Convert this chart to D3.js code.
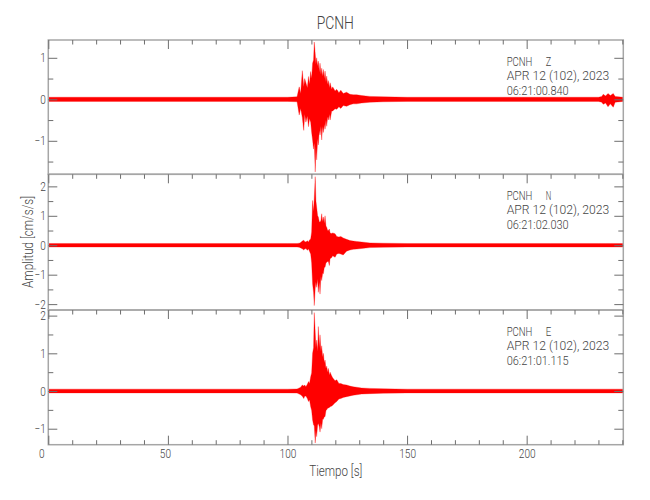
<!DOCTYPE html>
<html>
<head>
<meta charset="utf-8">
<script src="https://cdn.jsdelivr.net/npm/d3@7"></script>
<style>
  html, body { margin: 0; padding: 0; background: #fff; }
  svg { display: block; }
</style>
</head>
<body>
<svg id="chart" width="650" height="500"></svg>
<script>
// ---------------- DATA ----------------
const station = "PCNH";
const dateLabel = "APR 12 (102), 2023";
const channels = ["Z", "N", "E"];
const startTimes = ["06:21:00.840", "06:21:02.030", "06:21:01.115"];
const xLabel = "Tiempo [s]";
const yLabel = "Amplitud [cm/s/s]";

// time axis (s) and axis ranges
const timeRange = [0, 240.4];
const xMajorTicks = [0, 50, 100, 150, 200];
const zRange = [-1.807, 1.429];
const nRange = [-2.20, 2.41];
const eRange = [-1.424, 2.149];
const zTicks = [-1, 0, 1];
const nTicks = [-2, -1, 0, 1, 2];
const eTicks = [-1, 0, 1, 2];

// envelope samples (upper / lower extremes of the trace)
const time = [0, 20, 40, 60, 80, 100, 104, 104.9, 105.5, 106.2, 106.8, 107.2, 107.7, 108.3, 108.8, 109.2,
  109.7, 110.1, 110.5, 110.9, 111.2, 111.6, 111.9, 112.2, 112.6, 112.9, 113.3, 113.6, 114.0, 114.3,
  114.7, 115.0, 115.4, 115.7, 116.1, 116.4, 116.8, 117.1, 117.5, 117.8, 118.5, 118.9, 119.9, 120.6,
  121.5, 122.3, 123.3, 124.7, 126.1, 127.5, 128.9, 131, 134.5, 140, 150, 170, 190, 210, 230,
  231.4, 232, 233, 234, 235, 236.2, 237, 240.4];

const zUpper = [0.05, 0.05, 0.05, 0.05, 0.05, 0.05, 0.06, 0.30, 0.14, 0.69, 0.30, 0.50, 0.40, 0.28, 0.55, 0.36,
  0.67, 0.50, 0.87, 0.95, 1.38, 1.10, 0.85, 1.00, 0.80, 0.92, 0.65, 0.87, 0.60, 0.75,
  0.55, 0.72, 0.50, 0.68, 0.42, 0.56, 0.36, 0.45, 0.28, 0.40, 0.24, 0.30, 0.20, 0.24,
  0.16, 0.22, 0.14, 0.17, 0.12, 0.11, 0.11, 0.09, 0.07, 0.06, 0.05, 0.05, 0.05, 0.05, 0.05,
  0.07, 0.12, 0.08, 0.14, 0.09, 0.14, 0.07, 0.05];
const zLower = [-0.05, -0.05, -0.05, -0.05, -0.05, -0.05, -0.06, -0.38, -0.22, -0.44, -0.75, -0.36, -0.55, -0.40, -0.66, -0.46,
  -0.55, -0.80, -0.98, -1.20, -1.05, -1.75, -1.15, -1.46, -0.95, -1.10, -0.75, -0.86, -0.65, -0.98,
  -0.65, -0.80, -0.60, -0.72, -0.50, -0.65, -0.42, -0.50, -0.36, -0.50, -0.28, -0.28, -0.23, -0.24,
  -0.18, -0.22, -0.15, -0.17, -0.13, -0.11, -0.11, -0.09, -0.07, -0.06, -0.05, -0.05, -0.05, -0.05, -0.05,
  -0.07, -0.12, -0.09, -0.18, -0.11, -0.19, -0.07, -0.05];

const nUpper = [0.06, 0.06, 0.06, 0.06, 0.06, 0.06, 0.06, 0.07, 0.09, 0.14, 0.17, 0.13, 0.11, 0.15, 0.11, 0.18,
  0.21, 0.45, 1.52, 1.15, 1.60, 2.33, 1.50, 1.29, 1.00, 0.96, 0.80, 0.78, 0.85, 1.07,
  0.80, 0.96, 0.75, 1.00, 0.65, 0.61, 0.50, 0.50, 0.55, 0.42, 0.40, 0.42, 0.39, 0.30,
  0.28, 0.30, 0.25, 0.20, 0.16, 0.14, 0.13, 0.11, 0.08, 0.07, 0.06, 0.06, 0.06, 0.06, 0.06,
  0.06, 0.06, 0.06, 0.06, 0.06, 0.06, 0.06, 0.06];
const nLower = [-0.06, -0.06, -0.06, -0.06, -0.06, -0.06, -0.06, -0.07, -0.09, -0.12, -0.16, -0.13, -0.11, -0.17, -0.13, -0.20,
  -0.30, -0.60, -1.32, -1.60, -2.05, -1.45, -1.25, -1.43, -1.15, -1.60, -1.25, -1.66, -1.05, -1.20,
  -0.95, -0.97, -0.75, -0.75, -0.60, -0.58, -0.55, -0.55, -0.69, -0.46, -0.42, -0.36, -0.41, -0.30,
  -0.28, -0.30, -0.33, -0.20, -0.16, -0.14, -0.13, -0.11, -0.08, -0.07, -0.06, -0.06, -0.06, -0.06, -0.06,
  -0.06, -0.06, -0.06, -0.06, -0.06, -0.06, -0.06, -0.06];

const eUpper = [0.05, 0.05, 0.05, 0.05, 0.05, 0.05, 0.055, 0.08, 0.10, 0.16, 0.13, 0.16, 0.11, 0.18, 0.25, 0.20,
  0.38, 0.48, 1.00, 1.15, 2.08, 1.55, 1.15, 1.35, 1.05, 1.71, 1.15, 1.49, 1.05, 1.20,
  0.90, 1.00, 0.75, 0.82, 0.60, 0.66, 0.50, 0.60, 0.42, 0.50, 0.40, 0.35, 0.27, 0.30,
  0.20, 0.20, 0.17, 0.16, 0.13, 0.11, 0.10, 0.08, 0.07, 0.06, 0.05, 0.05, 0.05, 0.05, 0.05,
  0.05, 0.05, 0.05, 0.05, 0.05, 0.05, 0.05, 0.05];
const eLower = [-0.05, -0.05, -0.05, -0.05, -0.05, -0.05, -0.055, -0.08, -0.10, -0.14, -0.20, -0.14, -0.13, -0.20, -0.28, -0.23,
  -0.42, -0.52, -0.77, -0.90, -0.92, -1.38, -1.05, -1.21, -0.90, -0.86, -0.95, -1.09, -0.85, -1.00,
  -0.75, -0.75, -0.68, -0.68, -0.52, -0.50, -0.46, -0.45, -0.44, -0.42, -0.40, -0.38, -0.31, -0.28,
  -0.21, -0.20, -0.17, -0.15, -0.13, -0.11, -0.10, -0.08, -0.07, -0.06, -0.05, -0.05, -0.05, -0.05, -0.05,
  -0.05, -0.05, -0.05, -0.05, -0.05, -0.05, -0.05, -0.05];

// ---------------- LAYOUT ----------------
const FONT = "Roboto, 'DejaVu Sans', sans-serif";
const WEIGHT = 300;
const frameColor = "#a6a6a6";
const tickColor = "#6e6e6e";
const textColor = "#444";
const traceColor = "#ff0000";
const charW = 5.6; // width of one label character in the reference (px)

const svg = d3.select("#chart");
const x = d3.scaleLinear().domain(timeRange).range([48.3, 623.3]);

const panels = [
  { ch: channels[0], start: startTimes[0], up: zUpper, lo: zLower, range: zRange, ticks: zTicks, top: 40, bottom: 174.3 },
  { ch: channels[1], start: startTimes[1], up: nUpper, lo: nLower, range: nRange, ticks: nTicks, top: 174.3, bottom: 310 },
  { ch: channels[2], start: startTimes[2], up: eUpper, lo: eLower, range: eRange, ticks: eTicks, top: 310, bottom: 444.7 }
];

const xMinor = d3.range(0, timeRange[1], 10).filter(v => !xMajorTicks.includes(v));
const x0 = x.range()[0], x1 = x.range()[1];
const fmt = d3.format("d");

function cleanAxis(g) {
  g.select(".domain").remove();
  g.selectAll(".tick line").attr("stroke", tickColor).attr("stroke-width", 1);
}
function styleLabels(g, size) {
  g.select(".domain").remove();
  g.attr("font-family", null).attr("font-size", null);
  g.selectAll("text")
    .attr("fill", textColor)
    .style("font-family", FONT).style("font-weight", WEIGHT).style("font-size", size + "px")
    .attr("textLength", function () { return this.textContent.length * charW; })
    .attr("lengthAdjust", "spacingAndGlyphs");
}

panels.forEach((p, i) => {
  const y = d3.scaleLinear().domain(p.range).range([p.bottom, p.top]);
  const clipId = "clip" + i;
  svg.append("clipPath").attr("id", clipId)
    .append("rect").attr("x", x0).attr("y", p.top).attr("width", x1 - x0).attr("height", p.bottom - p.top);

  const pts = time.map((t, k) => ({ t, u: p.up[k], l: p.lo[k] }));
  const area = d3.area().x(d => x(d.t)).y0(d => y(d.l)).y1(d => y(d.u));
  svg.append("path").datum(pts)
    .attr("clip-path", `url(#${clipId})`)
    .attr("d", area)
    .attr("fill", traceColor)
    .attr("stroke", traceColor)
    .attr("stroke-width", 0.3);

  // frame
  svg.append("rect").attr("x", x0).attr("y", p.top).attr("width", x1 - x0).attr("height", p.bottom - p.top)
    .attr("fill", "none").attr("stroke", frameColor).attr("stroke-width", 1.5);

  // y ticks, left and right (pointing in)
  const yMinor = d3.range(Math.ceil(p.range[0] * 2) / 2, p.range[1], 0.5).filter(v => !Number.isInteger(v));
  svg.append("g").attr("transform", `translate(${x0},0)`)
    .call(d3.axisRight(y).tickValues(p.ticks).tickSize(9).tickFormat("")).call(cleanAxis);
  svg.append("g").attr("transform", `translate(${x0},0)`)
    .call(d3.axisRight(y).tickValues(yMinor).tickSize(5).tickFormat("")).call(cleanAxis);
  svg.append("g").attr("transform", `translate(${x1},0)`)
    .call(d3.axisLeft(y).tickValues(p.ticks).tickSize(9).tickFormat("")).call(cleanAxis);
  svg.append("g").attr("transform", `translate(${x1},0)`)
    .call(d3.axisLeft(y).tickValues(yMinor).tickSize(5).tickFormat("")).call(cleanAxis);

  // y tick labels
  svg.append("g").attr("transform", `translate(${x0},0)`)
    .call(d3.axisLeft(y).tickValues(p.ticks).tickSize(0).tickPadding(2.5).tickFormat(fmt))
    .call(g => styleLabels(g, 13));

  // x ticks on top edge of every panel (pointing down)
  svg.append("g").attr("transform", `translate(0,${p.top})`)
    .call(d3.axisBottom(x).tickValues(xMajorTicks).tickSize(9).tickFormat("")).call(cleanAxis);
  svg.append("g").attr("transform", `translate(0,${p.top})`)
    .call(d3.axisBottom(x).tickValues(xMinor).tickSize(4.5).tickFormat("")).call(cleanAxis);

  // annotation
  const ann = svg.append("g").attr("fill", textColor)
    .style("font-family", FONT).style("font-weight", WEIGHT).style("font-size", "13px");
  ann.append("text").attr("x", 506.7).attr("y", p.top + 25.5).attr("textLength", 25.7)
    .attr("lengthAdjust", "spacingAndGlyphs").text(station);
  ann.append("text").attr("x", 545.7).attr("y", p.top + 25.5).attr("textLength", 5.5)
    .attr("lengthAdjust", "spacingAndGlyphs").text(p.ch);
  ann.append("text").attr("x", 506.7).attr("y", p.top + 40).attr("textLength", 102.6)
    .attr("lengthAdjust", "spacingAndGlyphs").text(dateLabel);
  ann.append("text").attr("x", 506.7).attr("y", p.top + 54.5).attr("textLength", 62)
    .attr("lengthAdjust", "spacingAndGlyphs").text(p.start);

  if (i === panels.length - 1) {
    svg.append("g").attr("transform", `translate(0,${p.bottom})`)
      .call(d3.axisTop(x).tickValues(xMajorTicks).tickSize(9).tickFormat("")).call(cleanAxis);
    svg.append("g").attr("transform", `translate(0,${p.bottom})`)
      .call(d3.axisTop(x).tickValues(xMinor).tickSize(4.5).tickFormat("")).call(cleanAxis);
    svg.append("g").attr("transform", `translate(0,${p.bottom})`)
      .call(d3.axisBottom(x).tickValues(xMajorTicks).tickSize(0).tickPadding(3.6).tickFormat(fmt))
      .call(g => styleLabels(g, 13.5))
      .selectAll("text").attr("dx", d => d === 0 ? -7 : (d === 50 ? -3 : 0));
  }
});

// title
svg.append("text").attr("x", 335.3).attr("y", 29.3).attr("text-anchor", "middle")
  .attr("fill", textColor).style("font-family", FONT).style("font-weight", WEIGHT).style("font-size", "18.6px")
  .attr("textLength", 37.3).attr("lengthAdjust", "spacingAndGlyphs").text(station);

// axis titles
svg.append("text").attr("x", 335.8).attr("y", 476).attr("text-anchor", "middle")
  .attr("fill", textColor).style("font-family", FONT).style("font-weight", WEIGHT).style("font-size", "14.5px")
  .attr("textLength", 53).attr("lengthAdjust", "spacingAndGlyphs").text(xLabel);
svg.append("text").attr("transform", "translate(33.3,242) rotate(-90)").attr("text-anchor", "middle")
  .attr("fill", textColor).style("font-family", FONT).style("font-weight", WEIGHT).style("font-size", "14px")
  .attr("textLength", 92).attr("lengthAdjust", "spacingAndGlyphs").text(yLabel);
</script>
</body>
</html>
